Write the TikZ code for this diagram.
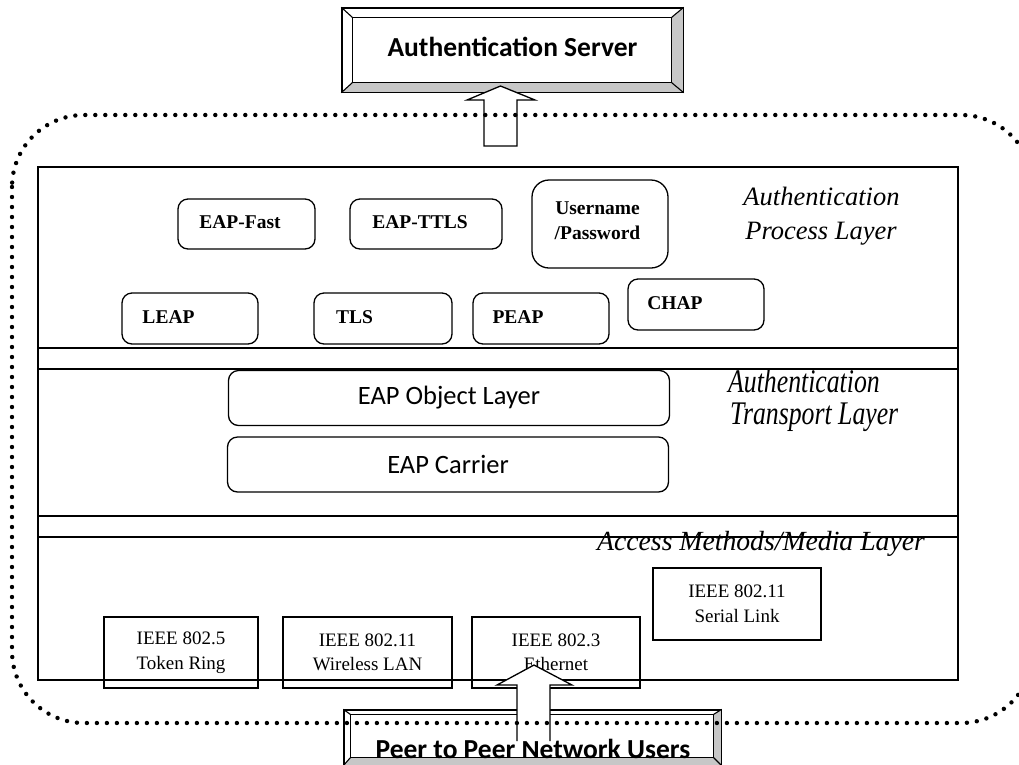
\documentclass[tikz,border=0pt]{standalone}
\usepackage{fontspec}
\setmainfont{Liberation Serif}
\newfontfamily\carlito{Carlito}
\usetikzlibrary{calc}
\begin{document}
\begin{tikzpicture}[x=1pt,y=-1pt,
  frame/.style={draw, line width=1.6pt, inner sep=0pt},
  band/.style={draw, line width=1.9pt, inner sep=0pt, minimum width=920pt, minimum height=21pt},
  procbox/.style={draw, line width=1.3pt, rounded corners=10pt, inner sep=0pt, minimum width=136pt, minimum height=51pt},
  proclabel/.style={font=\fontsize{19.5}{25}\selectfont\bfseries, align=center, inner sep=0pt},
  eapbox/.style={draw, line width=1.3pt, rounded corners=10pt, inner sep=0pt, minimum width=441pt, minimum height=55pt, font=\carlito\fontsize{26.5}{30}\selectfont},
  medbox/.style={draw, line width=1.4pt, inner sep=0pt, minimum height=71pt, align=center, font=\fontsize{19}{24.5}\selectfont},
  layerlabel/.style={font=\itshape\fontsize{26.5}{34}\selectfont, inner sep=0pt, anchor=base},
  narrowlabel/.style={font=\itshape\fontsize{33}{40}\selectfont, inner sep=0pt, anchor=base west},
  bevelbox/.style={draw, line width=1.3pt, fill=white, inner sep=0pt},
  bevelshade/.style={fill=black!22},
  boxtitle/.style={font=\carlito\bfseries\fontsize{27.5}{32}\selectfont, inner sep=0pt},
  blockarrow/.style={line width=1.3pt, line join=miter},
  dotline/.style={line width=4.4pt, line cap=round, dash pattern=on 0pt off 10pt}
]
\useasboundingbox (0,0) rectangle (1019,764);

% outer frame of the protocol stack and the two separator bands
\node[frame, minimum width=920pt, minimum height=513pt] (stack) at (498,423.5) {};
\node[band] (band1) at (498,358.5) {};
\node[band] (band2) at (498,526.5) {};

% authentication process layer
\node[procbox, minimum width=137pt, minimum height=50pt] (fastbox) at (246.5,224) {};
\node[procbox, minimum width=152pt, minimum height=50pt] (ttlsbox) at (426,224) {};
\node[procbox, minimum height=88pt, rounded corners=17pt] (userbox) at (600,224) {};
\node[procbox] (leapbox) at (190,318.5) {};
\node[procbox, minimum width=138pt] (tlsbox) at (383,318.5) {};
\node[procbox] (peapbox) at (541,318.5) {};
\node[procbox] (chapbox) at (696,304.5) {};

\node[proclabel] (fast) at (240,222.5) {EAP-Fast};
\node[proclabel] (ttls) at (420,222.5) {EAP-TTLS};
\node[proclabel] (user) at (597.5,221) {Username\\/Password};
\node[proclabel] (leap) at (168.5,317) {LEAP};
\node[proclabel] (tls) at (354.5,317) {TLS};
\node[proclabel] (peap) at (518,317) {PEAP};
\node[proclabel] (chap) at (675,303.5) {CHAP};

\node[layerlabel] (procA) at (821.5,205) {Authentication};
\node[layerlabel] (procB) at (821,239) {Process Layer};

% authentication transport layer
\node[eapbox] (eapobj) at (449,398) {EAP Object Layer};
\node[eapbox] (eapcar) at (448,464.5) {EAP Carrier};
\node[narrowlabel] (transA) at (728,392) {\scalebox{0.78}[1]{Authentication}};
\node[narrowlabel] (transB) at (730,424) {\scalebox{0.78}[1]{Transport Layer}};

% access methods / media layer
\node[layerlabel, font=\itshape\fontsize{27.7}{34}\selectfont] (access) at (761,550) {Access Methods/Media Layer};
\node[medbox, minimum width=154pt] (tokenring) at (181,652.5) {IEEE 802.5\\Token Ring};
\node[medbox, minimum width=169pt] (wlan) at (367.5,652.5) {IEEE 802.11\\Wireless LAN};
\node[medbox, minimum width=168pt] (ethernet) at (556,652.5) {IEEE 802.3\\Ethernet};
\node[medbox, minimum width=168pt, minimum height=72pt] (serial) at (737,604) {IEEE 802.11\\Serial Link};

% authentication server (bevelled box)
\node[bevelbox, minimum width=341pt, minimum height=84pt] (server) at (512.5,50) {};
\coordinate (s1) at (server.north west);
\coordinate (s2) at (server.north east);
\coordinate (s3) at (server.south east);
\coordinate (s4) at (server.south west);
\coordinate (t1) at ($(s1)+(11,10)$);
\coordinate (t2) at ($(s2)+(-12,10)$);
\coordinate (t3) at ($(s3)+(-12,-10)$);
\coordinate (t4) at ($(s4)+(11,-10)$);
\fill[bevelshade] (s4) -- (s3) -- (t3) -- (t4) -- cycle;
\fill[bevelshade] (s3) -- (s2) -- (t2) -- (t3) -- cycle;
\draw[line width=1.3pt] (s1) rectangle (s3);
\draw[line width=1.1pt] (t1) -- (t2) -- (t3) -- (t4) -- cycle;
\draw[line width=1.1pt] (s1) -- (t1) (s2) -- (t2) (s3) -- (t3) (s4) -- (t4);
\node[boxtitle] (servertitle) at (512.5,47) {Authentication Server};

% peer users (bevelled box, cut by the page edge)
\node[bevelbox, minimum width=377pt, minimum height=55pt] (peer) at (532.5,737.5) {};
\coordinate (p1) at (peer.north west);
\coordinate (p2) at (peer.north east);
\coordinate (p3) at (peer.south east);
\coordinate (p4) at (peer.south west);
\coordinate (q1) at ($(p1)+(7,5)$);
\coordinate (q2) at ($(p2)+(-8,5)$);
\coordinate (q3) at ($(p3)+(-8,-8)$);
\coordinate (q4) at ($(p4)+(7,-8)$);
\fill[bevelshade] (p4) -- (p3) -- (q3) -- (q4) -- cycle;
\fill[bevelshade] (p3) -- (p2) -- (q2) -- (q3) -- cycle;
\draw[line width=1.3pt] (p1) rectangle (p3);
\draw[line width=1.1pt] (q1) -- (q2) -- (q3) -- (q4) -- cycle;
\draw[line width=1.1pt] (p1) -- (q1) (p2) -- (q2) (p3) -- (q3) (p4) -- (q4);
\node[boxtitle] (peertitle) at (533,749) {Peer to Peer Network Users};

% block arrows: stack up to the server, users up into the stack
\filldraw[blockarrow, fill=white] (484,146) -- (484,100) -- (467,100) -- (500.5,86) -- (535,100) -- (517,100) -- (517,146) -- cycle;
\fill[white] (517,741) -- (517,685) -- (497,685) -- (534,665) -- (572,685) -- (550,685) -- (550,741) -- cycle;
\draw[blockarrow] (517,741) -- (517,685) -- (497,685) -- (534,665) -- (572,685) -- (550,685) -- (550,741);

% dotted boundary of the network
\draw[dotline, rounded corners=72pt] (12,115) rectangle (1033,723);
\end{tikzpicture}
\end{document}
